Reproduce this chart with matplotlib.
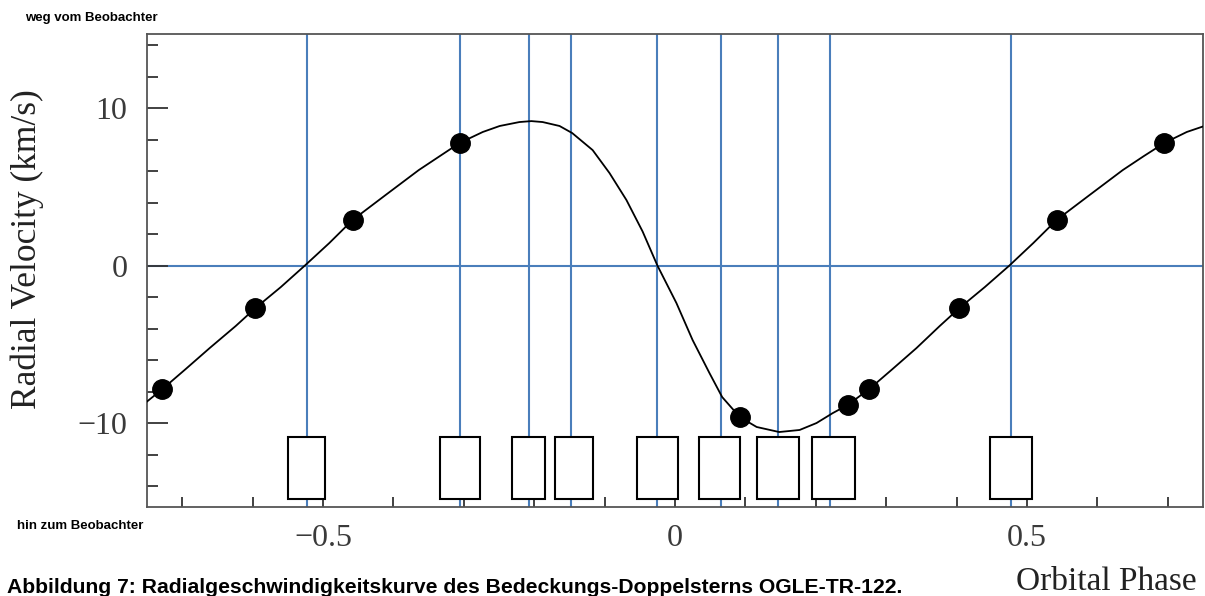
import matplotlib
matplotlib.use("Agg")
import matplotlib.pyplot as plt
from matplotlib.patches import Rectangle
from matplotlib.ticker import MultipleLocator, FixedLocator, FixedFormatter

# model radial velocity curve (phase, km/s)
curve_phase = [-0.751, -0.728, -0.695, -0.661, -0.624, -0.596, -0.560, -0.525,
               -0.491, -0.458, -0.411, -0.364, -0.334, -0.306, -0.273, -0.249,
               -0.221, -0.204, -0.188, -0.164, -0.146, -0.117, -0.093, -0.069,
               -0.046, -0.025, 0.002, 0.025, 0.049, 0.067, 0.092, 0.116,
               0.148, 0.177, 0.201, 0.224, 0.245, 0.276, 0.309, 0.343,
               0.376, 0.404, 0.440, 0.475, 0.509, 0.542, 0.589, 0.636,
               0.666, 0.695, 0.727, 0.752]
curve_rv = [-8.67, -7.84, -6.57, -5.24, -3.84, -2.70, -1.37, 0.03,
            1.43, 2.89, 4.48, 6.06, 6.95, 7.78, 8.48, 8.86,
            9.11, 9.17, 9.11, 8.86, 8.41, 7.33, 5.87, 4.16,
            2.16, 0.0, -2.38, -4.73, -6.83, -8.35, -9.62, -10.25,
            -10.57, -10.44, -10.0, -9.37, -8.86, -7.84, -6.57, -5.24,
            -3.84, -2.70, -1.37, 0.0, 1.43, 2.89, 4.48, 6.06,
            6.95, 7.78, 8.48, 8.86]

# measured velocities
obs_phase = [-0.728, -0.596, -0.458, -0.306, 0.092, 0.246, 0.276, 0.404, 0.543, 0.695]
obs_rv = [-7.84, -2.70, 2.89, 7.78, -9.62, -8.86, -7.84, -2.70, 2.89, 7.78]

# phases of the marked orbit positions
marker_phase = [-0.523, -0.305, -0.208, -0.148, -0.025, 0.065, 0.146, 0.220, 0.477]

xticks = [-0.5, 0, 0.5]
xtick_labels = ["\u22120.5", "0", "0.5"]
yticks = [-10, 0, 10]
ytick_labels = ["\u221210", "0", "10"]

blue = "#4a7ebb"
axis_grey = "#555555"

fig = plt.figure(figsize=(12.05, 5.96), dpi=100)
ax = fig.add_axes([147 / 1205, 1 - 507 / 596, 1056 / 1205, 473 / 596])

ax.set_xlim(-0.75, 0.75)
ax.set_ylim(-15.33, 14.70)

ax.axhline(0, color=blue, lw=1.5, zorder=1)
for p in marker_phase:
    ax.axvline(p, color=blue, lw=1.5, zorder=1)

ax.plot(curve_phase, curve_rv, color="black", lw=1.3, zorder=3,
        solid_joinstyle="round")
ax.plot(obs_phase, obs_rv, "o", color="black", ms=14, zorder=4)

# white frames below each marked phase
box_widths = [0.053, 0.057, 0.048, 0.054, 0.058, 0.058, 0.060, 0.060, 0.060]
box_shift = [0.0, 0.0, 0.0, 0.004, 0.0, -0.002, 0.0, 0.005, 0.0]
for p, w, d in zip(marker_phase, box_widths, box_shift):
    ax.add_patch(Rectangle((p + d - w / 2, -14.8), w, 3.9,
                           facecolor="white", edgecolor="black", lw=1.5, zorder=5))

for s in ax.spines.values():
    s.set_color(axis_grey)
    s.set_linewidth(1.3)

ax.xaxis.set_major_locator(FixedLocator(xticks))
ax.xaxis.set_major_formatter(FixedFormatter(xtick_labels))
ax.xaxis.set_minor_locator(MultipleLocator(0.1))
ax.yaxis.set_major_locator(FixedLocator(yticks))
ax.yaxis.set_major_formatter(FixedFormatter(ytick_labels))
ax.yaxis.set_minor_locator(MultipleLocator(2))

ax.tick_params(axis="x", which="both", direction="in", length=7, width=1.3,
               color="#333333", pad=12, labelsize=23, labelcolor="#3a3a3a")
ax.tick_params(axis="y", which="major", direction="in", length=15, width=1.3,
               color="#333333", pad=14, labelsize=23, labelcolor="#3a3a3a")
ax.tick_params(axis="y", which="minor", direction="in", length=8, width=1.3,
               color="#333333")
for lbl in ax.get_xticklabels() + ax.get_yticklabels():
    lbl.set_fontfamily("Liberation Serif")

fig.text(27 / 1205, 1 - 249 / 596, "Radial Velocity (km/s)", rotation=90,
         ha="center", va="center", fontsize=25.5, family="Liberation Serif",
         color="#222222")
fig.text(1106 / 1205, 1 - 582 / 596, "Orbital Phase", ha="center", va="center",
         fontsize=24, family="Liberation Serif", color="#222222")

fig.text(25 / 1205, 1 - 18 / 596, "weg vom Beobachter", ha="left", va="center",
         fontsize=9.5, fontweight="bold", family="Liberation Sans")
fig.text(17 / 1205, 1 - 526 / 596, "hin zum Beobachter", ha="left", va="center",
         fontsize=9.5, fontweight="bold", family="Liberation Sans")
fig.text(7 / 1205, 1 - 593 / 596,
         "Abbildung 7: Radialgeschwindigkeitskurve des Bedeckungs-Doppelsterns OGLE-TR-122.",
         ha="left", va="baseline", fontsize=15.2, fontweight="bold",
         family="Liberation Sans")

fig.savefig("out.png", dpi=100)
